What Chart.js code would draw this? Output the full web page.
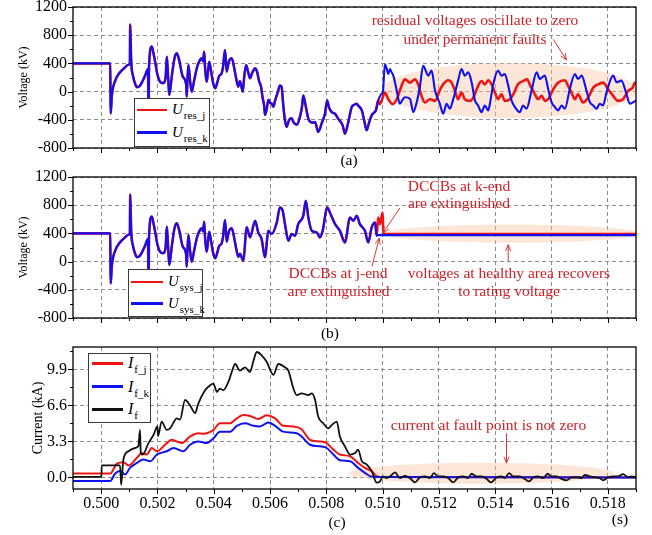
<!DOCTYPE html>
<html>
<head>
<meta charset="utf-8">
<title>Residual voltage, system voltage and fault current</title>
<script src="https://cdn.jsdelivr.net/npm/chart.js@4.4.1/dist/chart.umd.min.js"></script>
<style>
  body { margin: 0; background: #fff; }
  #wrap { position: relative; width: 652px; height: 535px; overflow: hidden;
          font-family: "Liberation Serif", "Times New Roman", serif; }
  canvas { position: absolute; left: 0; }
  .txt { position: absolute; line-height: 1; white-space: nowrap; }
  .sb { font-size: 11px; position: relative; top: 5px; margin-left: 1px; font-style: normal; }
  .box { position: absolute; border: 1px solid #3a3a3a; background: #fff; box-sizing: border-box; }
  .swatch { position: absolute; height: 2.5px; }
</style>
</head>
<body>
<div id="wrap">
  <canvas id="panelA" width="652" height="170" style="top:0"></canvas>
  <canvas id="panelB" width="652" height="170" style="top:170px"></canvas>
  <canvas id="panelC" width="652" height="195" style="top:340px"></canvas>
</div>
<script>
/* ================= AXES ================= */

const xMajor = [0.500, 0.502, 0.504, 0.506, 0.508, 0.510, 0.512, 0.514, 0.516, 0.518];
const xMinor = [0.499, 0.501, 0.503, 0.505, 0.507, 0.509, 0.511, 0.513, 0.515, 0.517, 0.519];
const voltTicks = [-800, -400, 0, 400, 800, 1200];
const voltMinor = [-600, -200, 200, 600, 1000];
const ampTicks = [0, 3.3, 6.6, 9.9];
const ampMinor = [1.65, 4.95, 8.25, 11.55];

/* ================= DATA (time in s) ================= */

// (a) and (b) share the waveform until ~0.5049 s
const earlyT = [0.499, 0.50032, 0.50034, 0.50038, 0.50050, 0.50067, 0.50085, 0.50097, 0.50102, 0.50103,
  0.50107, 0.50113, 0.50121, 0.50127, 0.50138, 0.50156, 0.50166, 0.50168, 0.50169, 0.50170,
  0.50180, 0.50185, 0.50192, 0.50199, 0.50209, 0.50220, 0.50229, 0.50233, 0.50238, 0.50242,
  0.50252, 0.50261, 0.50269, 0.50277, 0.50290, 0.50302, 0.50304, 0.50307, 0.50310, 0.50316,
  0.50322, 0.50330, 0.50341, 0.50351, 0.50357, 0.50362, 0.50366, 0.50369, 0.50375, 0.50380,
  0.50384, 0.50390, 0.50398, 0.50405, 0.50412, 0.50419, 0.50428, 0.50433, 0.50440, 0.50446,
  0.50453, 0.50464, 0.50472, 0.50479, 0.50487];
const earlyV = [400, 400, -310, -60, 156, 273, 344, 381, 400, 950,
  414, 226, 109, 62, 85, 226, 320, -103, -160, 350,
  640, 560, 420, 260, 141, 120, 200, 495, 200, -48,
  250, 480, 543, 450, 212, 100, -72, 200, 377, 150,
  -1, 150, 350, 448, 472, 430, 566, 350, 141, 300,
  424, 300, 120, 47, 120, 220, 260, 350, 590, 283,
  420, 472, 350, 200, 70];

// (a) residual voltage, both ends
const resMidT = [0.50493, 0.50503, 0.50508, 0.50515, 0.50522, 0.50529, 0.50536, 0.50547, 0.50554, 0.50561,
  0.50568, 0.50573, 0.50579, 0.50582, 0.50588, 0.50594, 0.50600, 0.50606, 0.50612, 0.50618,
  0.50628, 0.50635, 0.50641, 0.50646, 0.50653, 0.50659, 0.50666, 0.50671, 0.50677, 0.50683,
  0.50695, 0.50706, 0.50714, 0.50718, 0.50724, 0.50736, 0.50742, 0.50753, 0.50760, 0.50771,
  0.50777, 0.50783, 0.50795, 0.50803, 0.50809, 0.50819, 0.50831, 0.50842, 0.50858, 0.50866,
  0.50878, 0.50890, 0.50898, 0.50908, 0.50913, 0.50926, 0.50934, 0.50943, 0.50951, 0.50961,
  0.50969, 0.50976, 0.50984];
const resMidV = [150, 0, 200, 377, 280, 189, 260, 330, 280, 150,
  70, -72, -200, -331, -250, -118, -160, -173, -214, -126,
  0, 85, 70, -150, -408, -500, -420, -385, -378, -432,
  -470, -361, -200, -56, -150, -385, -426, -440, -432, -573,
  -530, -455, -314, -126, -220, -291, -314, -385, -479, -596,
  -432, -220, -190, -173, -197, -267, -400, -549, -450, -338,
  -300, -267, -126];

const resKT = [0.50996, 0.51001, 0.51008, 0.51014, 0.51020, 0.51026, 0.51031, 0.51038, 0.51050, 0.51061,
  0.51070, 0.51079, 0.51097, 0.51109, 0.51121, 0.51132, 0.51144, 0.51162, 0.51174, 0.51186,
  0.51203, 0.51215, 0.51227, 0.51239, 0.51251, 0.51268, 0.51280, 0.51292, 0.51304, 0.51316,
  0.51328, 0.51339, 0.51351, 0.51363, 0.51375, 0.51381, 0.51393, 0.51410, 0.51422, 0.51434,
  0.51446, 0.51458, 0.51470, 0.51487, 0.51499, 0.51511, 0.51529, 0.51547, 0.51558, 0.51576,
  0.51588, 0.51600, 0.51612, 0.51623, 0.51636, 0.51647, 0.51665, 0.51683, 0.51694, 0.51707,
  0.51724, 0.51736, 0.51748, 0.51760, 0.51771, 0.51783, 0.51795, 0.51819, 0.51831, 0.51848,
  0.51866, 0.51878, 0.51890, 0.51902];
const resKV = [-32, 0, 390, 330, 250, 320, 280, 226, 15, -173,
  -120, -80, -103, -291, -150, 62, 367, 226, 297, 15,
  -170, -314, -173, -244, -103, 156, 320, 226, 273, 132,
  -126, -197, -291, -197, -267, -173, 109, 297, 226, 250,
  85, -126, -220, -291, -197, -244, 15, 273, 179, 226,
  38, -150, -220, -267, -197, -244, 38, 250, 179, 226,
  15, -150, -197, -244, -173, -197, -15, 226, 132, 156,
  -32, -173, -150, -126];

const resJT = [0.50990, 0.51008, 0.51020, 0.51036, 0.51050, 0.51067, 0.51079, 0.51097, 0.51115, 0.51126,
  0.51138, 0.51150, 0.51168, 0.51186, 0.51203, 0.51215, 0.51233, 0.51245, 0.51257, 0.51268,
  0.51280, 0.51292, 0.51310, 0.51322, 0.51334, 0.51351, 0.51363, 0.51375, 0.51387, 0.51399,
  0.51410, 0.51422, 0.51434, 0.51452, 0.51464, 0.51481, 0.51499, 0.51513, 0.51525, 0.51541,
  0.51552, 0.51565, 0.51576, 0.51588, 0.51606, 0.51623, 0.51647, 0.51659, 0.51671, 0.51683,
  0.51694, 0.51712, 0.51730, 0.51748, 0.51765, 0.51783, 0.51801, 0.51819, 0.51836, 0.51854,
  0.51872, 0.51888, 0.51896, 0.51903];
const resJV = [-180, -14, -108, -178, -108, 80, 174, 127, 174, 103,
  -61, -155, -108, -131, 20, 103, 160, 127, 10, -108,
  -15, -108, -131, -85, 33, 150, 103, 160, 103, -15,
  -108, -38, -131, -108, -38, 103, 150, 174, 80, -38,
  -108, -61, -131, -108, 33, 127, 160, 80, -15, -108,
  -38, -155, -85, 56, 103, 127, 33, -61, -131, -108,
  10, 56, 127, 100];

// (b) system voltage
const sysMidT = [0.50493, 0.50505, 0.50517, 0.50529, 0.50547, 0.50558, 0.50570, 0.50582, 0.50594, 0.50606,
  0.50624, 0.50635, 0.50645, 0.50653, 0.50665, 0.50677, 0.50689, 0.50700, 0.50718, 0.50727,
  0.50736, 0.50748, 0.50766, 0.50777, 0.50787, 0.50803, 0.50815, 0.50831, 0.50848, 0.50866,
  0.50884, 0.50896, 0.50908, 0.50919, 0.50937, 0.50949, 0.50961, 0.50973, 0.50979];
const sysMidV = [109, 15, 485, 344, 579, 414, 320, 62, 438, 391,
  555, 767, 720, 532, 297, 391, 367, 532, 649, 861,
  626, 438, 414, 344, 438, 767, 673, 532, 438, 273,
  626, 579, 649, 532, 438, 273, 485, 555, 367];
const sysKT = [0.50981, 0.519];
const sysKV = [375, 375];
const sysJT = [0.50984, 0.50990, 0.51000, 0.51002, 0.51005, 0.519];
const sysJV = [626, 532, 696, 438, 390, 390];

// (c) currents in kA
const ifT = [0.499, 0.50001, 0.50002, 0.50067, 0.50071, 0.50079, 0.50097, 0.50121, 0.50132, 0.50138,
  0.50141, 0.50148, 0.50168, 0.50186, 0.50200, 0.50202, 0.50215, 0.50233, 0.50245, 0.50269,
  0.50280, 0.50298, 0.50316, 0.50334, 0.50344, 0.50369, 0.50387, 0.50399, 0.50411, 0.50422,
  0.50434, 0.50452, 0.50464, 0.50476, 0.50493, 0.50511, 0.50529, 0.50541, 0.50553, 0.50570,
  0.50588, 0.50612, 0.50629, 0.50653, 0.50665, 0.50683, 0.50695, 0.50712, 0.50736, 0.50748,
  0.50760, 0.50771, 0.50789, 0.50807, 0.50819, 0.50837, 0.50848, 0.50866, 0.50884, 0.50902,
  0.50913, 0.50926, 0.50943, 0.50961, 0.50979, 0.50990, 0.51002, 0.51014, 0.51026, 0.51044,
  0.51061, 0.51079, 0.51097, 0.51115, 0.51132, 0.51150, 0.51168, 0.51182, 0.51197, 0.51215,
  0.51233, 0.51251, 0.51268, 0.51286, 0.51304, 0.51316, 0.51334, 0.51351, 0.51369, 0.51384,
  0.51405, 0.51422, 0.51434, 0.51449, 0.51464, 0.51487, 0.51505, 0.51520, 0.51535, 0.51552,
  0.51570, 0.51586, 0.51600, 0.51618, 0.51636, 0.51653, 0.51671, 0.51689, 0.51707, 0.51718,
  0.51736, 0.51754, 0.51771, 0.51783, 0.51801, 0.51819, 0.51836, 0.51854, 0.51872, 0.51884,
  0.51901];
const ifV = [0.06, 0.06, 1.1, 1.1, -0.67, 1.64, 2.4, 2.7, 2.85, 4.36,
  2.2, 2.1, 3.15, 3.9, 4.67, 3.8, 5.12, 4.36, 4.5, 5.42,
  5.3, 7.1, 6.6, 5.9, 6.7, 8.0, 8.45, 8.6, 7.85, 8.15,
  8.0, 8.76, 9.67, 10.4, 9.8, 10.1, 9.67, 10.7, 11.5, 11.2,
  10.6, 9.4, 10.4, 10.1, 9.8, 8.15, 7.55, 7.7, 7.55, 7.7,
  7.1, 5.58, 4.97, 4.5, 4.8, 5.12, 3.76, 2.85, 2.1, 2.24,
  2.55, 1.5, 1.2, 0.58, -0.48, -0.37, 0.09, -0.06, 0.09, 0.46,
  -0.06, 0.15, -0.06, -0.46, 0, 0.09, -0.06, 0.4, 0.09, 0.09,
  -0.06, -0.46, 0, 0.09, -0.06, 0.34, 0.09, 0.09, -0.12, -0.46,
  0, 0.09, -0.06, 0.4, 0.09, 0.09, -0.15, -0.37, 0, 0.09,
  -0.06, 0.34, 0.09, 0.09, -0.15, -0.27, 0, 0.03, -0.06, 0.24,
  0.09, 0.03, -0.06, -0.27, 0, 0.09, 0.09, 0.3, 0.03, 0.09,
  0.03];

const ifjT = [0.499, 0.50032, 0.50056, 0.50079, 0.50097, 0.50127, 0.50144, 0.50162, 0.50180, 0.50198,
  0.50233, 0.50251, 0.50269, 0.50286, 0.50316, 0.50345, 0.50363, 0.50399, 0.50422, 0.50458,
  0.50482, 0.50505, 0.50529, 0.50558, 0.50588, 0.50618, 0.50647, 0.50683, 0.50712, 0.50742,
  0.50777, 0.50801, 0.50825, 0.50848, 0.50884, 0.50913, 0.50937, 0.50961, 0.50979, 0.51002,
  0.519];
const ifjV = [0.36, 0.36, 1.27, 1.4, 1.1, 1.8, 2.24, 2.1, 2.7, 2.4,
  3.15, 3.45, 3.3, 3.15, 3.76, 4.06, 4.0, 4.36, 4.97, 4.97,
  5.42, 5.73, 5.64, 5.36, 5.7, 5.42, 4.73, 4.67, 4.42, 3.45,
  3.3, 3.15, 2.55, 2.1, 1.94, 1.33, 0.88, 0.58, 0.12, 0.03,
  0];

const ifkT = [0.499, 0.50032, 0.50050, 0.50067, 0.50085, 0.50103, 0.50127, 0.50150, 0.50174, 0.50198,
  0.50233, 0.50257, 0.50292, 0.50316, 0.50345, 0.50375, 0.50399, 0.50422, 0.50458, 0.50482,
  0.50511, 0.50541, 0.50564, 0.50594, 0.50618, 0.50647, 0.50695, 0.50712, 0.50742, 0.50777,
  0.50801, 0.50825, 0.50848, 0.50884, 0.50913, 0.50937, 0.50955, 0.50979, 0.519];
const ifkV = [-0.33, -0.33, 0.36, 0.58, 0.27, 0.9, 1.33, 1.64, 1.48, 2.1,
  2.4, 2.7, 2.4, 3.0, 3.3, 3.15, 3.6, 4.2, 4.2, 4.73,
  4.97, 4.73, 4.67, 5.03, 4.73, 4.2, 4.06, 3.76, 3.0, 2.85,
  2.7, 2.1, 1.58, 1.48, 0.88, 0.42, 0.12, 0.03, 0];

/* ================= HELPERS ================= */

const FONT = '"Liberation Serif", "Times New Roman", serif';
const RED = '#f01414';
const BLUE = '#1010f2';
const BLACK = '#111111';
const NOTE = '#cc1f26';

const pts = (ts, vs) => ts.map((t, i) => ({ x: t, y: vs[i] }));

function line(data, color, width) {
  return { data, borderColor: color, borderWidth: width, pointRadius: 0,
           cubicInterpolationMode: 'monotone', borderJoinStyle: 'round', fill: false };
}

function drawArrow(ctx, x0, y0, x1, y1) {
  const ang = Math.atan2(y1 - y0, x1 - x0), h = 7, w = 0.38;
  ctx.beginPath();
  ctx.moveTo(x0, y0);
  ctx.lineTo(x1, y1);
  ctx.moveTo(x1 - h * Math.cos(ang - w), y1 - h * Math.sin(ang - w));
  ctx.lineTo(x1, y1);
  ctx.lineTo(x1 - h * Math.cos(ang + w), y1 - h * Math.sin(ang + w));
  ctx.stroke();
}

// shaded ellipses, arrows, frame and tick marks
const decor = {
  id: 'decor',
  beforeDatasetsDraw(chart, args, opts) {
    const { ctx, scales: { x, y } } = chart;
    ctx.save();
    ctx.fillStyle = 'rgba(247, 196, 160, 0.42)';
    (opts.ellipses || []).forEach(e => {
      const cx = x.getPixelForValue(e.t), cy = y.getPixelForValue(e.v);
      const rx = Math.abs(x.getPixelForValue(e.t + e.rt) - cx);
      const ry = Math.abs(y.getPixelForValue(e.v + e.rv) - cy);
      ctx.beginPath();
      ctx.ellipse(cx, cy, rx, ry, 0, 0, Math.PI * 2);
      ctx.fill();
    });
    ctx.restore();
  },
  afterDraw(chart, args, opts) {
    const { ctx, chartArea: a, scales: { x, y } } = chart;
    ctx.save();
    ctx.strokeStyle = '#d23a3a';
    ctx.lineWidth = 1;
    (opts.arrows || []).forEach(([t0, v0, t1, v1]) => {
      drawArrow(ctx, x.getPixelForValue(t0), y.getPixelForValue(v0),
                x.getPixelForValue(t1), y.getPixelForValue(v1));
    });

    ctx.strokeStyle = '#000';
    ctx.lineWidth = 1.3;
    ctx.strokeRect(a.left, a.top, a.right - a.left, a.bottom - a.top);

    ctx.lineWidth = 1;
    ctx.beginPath();
    xMajor.forEach(v => { const p = Math.round(x.getPixelForValue(v)) + 0.5; ctx.moveTo(p, a.bottom); ctx.lineTo(p, a.bottom + 5); });
    xMinor.forEach(v => { const p = Math.round(x.getPixelForValue(v)) + 0.5; ctx.moveTo(p, a.bottom); ctx.lineTo(p, a.bottom + 3); });
    opts.yMajor.forEach(v => { const p = Math.round(y.getPixelForValue(v)) + 0.5; ctx.moveTo(a.left, p); ctx.lineTo(a.left - 5, p); });
    opts.yMinor.forEach(v => { const p = Math.round(y.getPixelForValue(v)) + 0.5; ctx.moveTo(a.left, p); ctx.lineTo(a.left - 3, p); });
    ctx.stroke();
    ctx.restore();
  }
};

function xScale(showLabels, height) {
  return {
    type: 'linear', min: 0.499, max: 0.519,
    afterBuildTicks: s => { s.ticks = xMajor.map(v => ({ value: v })); },
    afterFit: s => { s.height = height; s.paddingLeft = 0; s.paddingRight = 0; },
    grid: { color: '#8c8c8c', lineWidth: 1, drawTicks: false },
    border: { display: false, dash: [4, 3] },
    ticks: {
      display: showLabels, color: '#000', font: { family: FONT, size: 16 }, padding: 5,
      maxRotation: 0, autoSkip: false, callback: v => v.toFixed(3)
    }
  };
}

function yScale(min, max, ticks, fmt, title, titleSize, titlePad) {
  return {
    type: 'linear', min, max,
    afterBuildTicks: s => { s.ticks = ticks.map(v => ({ value: v })); },
    afterFit: s => { s.width = 73; s.paddingTop = 0; s.paddingBottom = 0; },
    grid: { color: '#8c8c8c', lineWidth: 1, drawTicks: false },
    border: { display: false, dash: [4, 3] },
    ticks: { color: '#000', font: { family: FONT, size: 16 }, padding: 6, autoSkip: false, callback: fmt },
    title: {
      display: true, text: title, color: '#000',
      font: { family: FONT, size: titleSize }, padding: { top: titlePad, bottom: 0 }
    }
  };
}

function panel(id, datasets, x, y, decorOpts) {
  return new Chart(document.getElementById(id), {
    type: 'line',
    data: { datasets },
    options: {
      responsive: false,
      animation: false,
      events: [],
      layout: { padding: { left: 0, right: 16, top: 7, bottom: 0 } },
      plugins: { legend: { display: false }, tooltip: { enabled: false }, decor: decorOpts },
      scales: { x, y }
    },
    plugins: [decor]
  });
}

/* ================= CHARTS ================= */

panel('panelA', [
  line([...pts(earlyT, earlyV), ...pts(resMidT, resMidV), ...pts(resKT, resKV)], BLUE, 2.1),
  line([...pts(earlyT, earlyV), ...pts(resMidT, resMidV), ...pts(resJT, resJV)], RED, 2.6)
], xScale(false, 22), yScale(-800, 1200, voltTicks, v => String(v), 'Voltage (kV)', 12, 17), {
  yMajor: voltTicks, yMinor: voltMinor,
  ellipses: [{ t: 0.51450, v: 16, rt: 0.00452, rv: 390 }],
  arrows: [[0.51606, 742, 0.51653, 448]]
});

panel('panelB', [
  line([...pts(earlyT, earlyV), ...pts(sysMidT, sysMidV), ...pts(sysKT, sysKV)], BLUE, 2.1),
  line([...pts(earlyT, earlyV), ...pts(sysMidT, sysMidV), ...pts(sysJT, sysJV)], RED, 2.6)
], xScale(false, 22), yScale(-800, 1200, voltTicks, v => String(v), 'Voltage (kV)', 12, 17), {
  yMajor: voltTicks, yMinor: voltMinor,
  ellipses: [{ t: 0.51456, v: 396, rt: 0.00458, rv: 128 }],
  arrows: [[0.51061, 760, 0.51001, 406], [0.50962, -68, 0.50988, 335], [0.51446, 3, 0.51446, 240]]
});

panel('panelC', [
  line(pts(ifT, ifV), BLACK, 1.8),
  line(pts(ifkT, ifkV), BLUE, 2),
  line(pts(ifjT, ifjV), RED, 2)
], xScale(true, 46), yScale(-1.06, 11.96, ampTicks, v => v.toFixed(1), 'Current (kA)', 14, 30), {
  yMajor: ampTicks, yMinor: ampMinor,
  ellipses: [{ t: 0.51349, v: 0.38, rt: 0.00472, rv: 0.96 }],
  arrows: [[0.51440, 4.05, 0.51440, 1.31]]
});

/* ================= TEXT & LEGENDS ================= */

const wrap = document.getElementById('wrap');

function text(html, x, baseline, size, color, center) {
  const d = document.createElement('div');
  d.className = 'txt';
  d.innerHTML = html;
  d.style.fontSize = size + 'px';
  d.style.left = x + 'px';
  d.style.top = (baseline - 0.8375 * size) + 'px';
  if (color) d.style.color = color;
  if (center) d.style.transform = 'translateX(-50%)';
  wrap.appendChild(d);
}

function box(x, y, w, h) {
  const d = document.createElement('div');
  d.className = 'box';
  Object.assign(d.style, { left: x + 'px', top: y + 'px', width: w + 'px', height: h + 'px' });
  wrap.appendChild(d);
}

function swatch(x0, x1, y, color) {
  const d = document.createElement('div');
  d.className = 'swatch';
  Object.assign(d.style, { left: x0 + 'px', top: (y - 1.25) + 'px', width: (x1 - x0) + 'px', background: color });
  wrap.appendChild(d);
}

// legends
box(134, 98, 76, 49);
swatch(137, 167, 110, RED);
text('<i>U</i><span class="sb">res_j</span>', 172, 115, 15);
swatch(137, 167, 132.7, BLUE);
text('<i>U</i><span class="sb">res_k</span>', 172, 137.7, 15);

box(128, 269, 75, 48);
swatch(131, 163, 282, RED);
text('<i>U</i><span class="sb">sys_j</span>', 168, 287, 15);
swatch(131, 163, 303.3, BLUE);
text('<i>U</i><span class="sb">sys_k</span>', 168, 308.3, 15);

box(88, 353, 63, 70);
swatch(92, 123, 363.3, RED);
text('<i>I</i><span class="sb">f_j</span>', 128, 368.8, 16);
swatch(92, 123, 386.7, BLUE);
text('<i>I</i><span class="sb">f_k</span>', 128, 392.2, 16);
swatch(92, 123, 409.3, BLACK);
text('<i>I</i><span class="sb">f</span>', 128, 414.8, 16);

// annotations
text('residual voltages oscillate to zero', 475, 25, 15.5, NOTE, true);
text('under permanent faults', 475, 43.5, 15.5, NOTE, true);
text('DCCBs at k-end', 459, 190.5, 15.5, NOTE, true);
text('are extinguished', 459, 208, 15.5, NOTE, true);
text('DCCBs at j-end', 338, 278.3, 15.5, NOTE, true);
text('are extinguished', 338.6, 296, 15.5, NOTE, true);
text('voltages at healthy area recovers', 509, 278.3, 15.5, NOTE, true);
text('to rating voltage', 509, 296, 15.5, NOTE, true);
text('current at fault point is not zero', 488.5, 430, 15.5, NOTE, true);

// panel tags and unit
text('(a)', 349, 165, 15.5, '#000', true);
text('(b)', 330, 338, 15.5, '#000', true);
text('(c)', 337, 527, 15.5, '#000', true);
text('(s)', 620, 524, 15.5, '#000', true);
</script>
</body>
</html>
